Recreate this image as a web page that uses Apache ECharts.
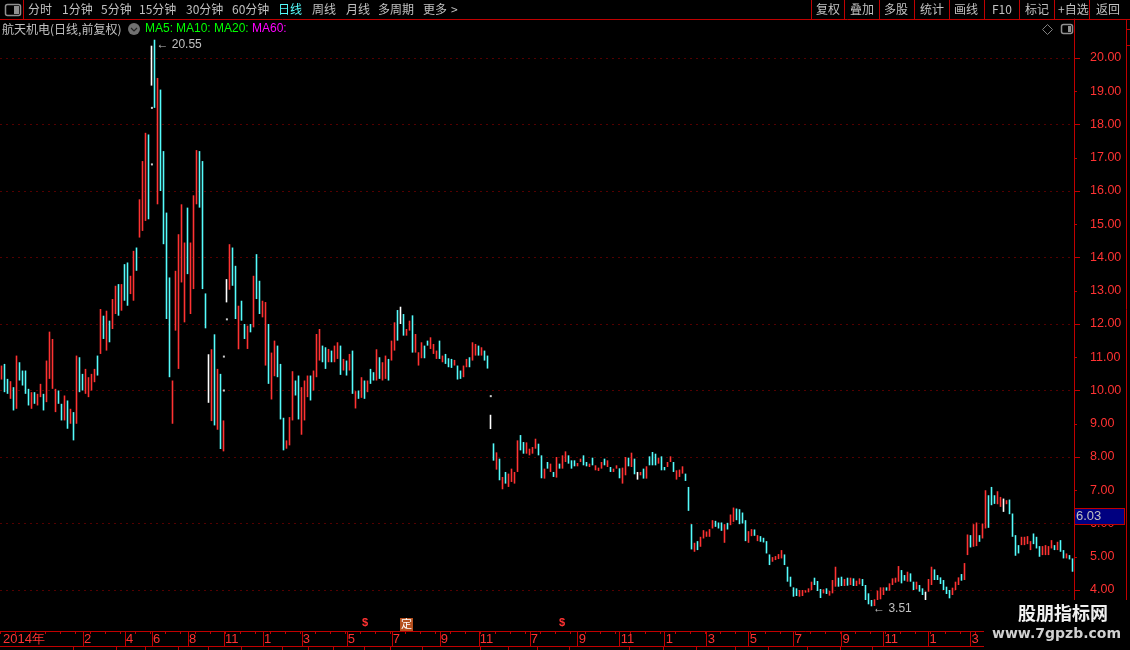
<!DOCTYPE html>
<html>
<head>
<meta charset="utf-8">
<style>html,body{margin:0;padding:0;background:#000}#main{width:1130px;height:650px}</style>
<script src="https://cdn.jsdelivr.net/npm/echarts@6/dist/echarts.min.js"></script>
</head>
<body>
<div id="main"></div>
<script>
// open, close, low, high
const candleValues = [
[10.35,10.72,10.33,10.75],[10.75,10.3,9.95,10.8],[10.3,10,9.9,10.35],[9.95,10.2,9.75,10.28],[9.9,9.5,9.4,10.1],[10,10.9,9.45,11.05],[10.8,10.35,10.3,10.85],[10.6,10.3,10.15,10.6],[10.55,10.1,9.9,10.6],[10.05,9.65,9.55,10.05],
[9.6,9.95,9.45,9.95],[9.95,9.7,9.6,9.95],[9.65,9.9,9.55,9.9],[9.9,10.15,9.8,10.2],[9.9,9.6,9.4,9.9],[9.8,10.4,9.65,10.9],[10.4,11.3,10.35,11.77],[10.2,10.6,10.05,11.55],[9.75,10,9.35,10.05],[10,9.7,9.6,10],
[9.55,9.2,9.1,9.6],[9.2,9.7,9.1,9.85],[9.6,9,8.85,9.7],[9.1,9.4,9,9.45],[9.3,8.95,8.5,9.35],[9.1,10.2,9,11.05],[11,10.2,9.95,11],[10.4,10.1,10,10.5],[10,10.4,9.9,10.65],[10,10.3,9.8,10.4],
[10.15,10.35,10,10.5],[10.4,10.6,10.25,10.65],[11,10.5,10.45,11.05],[11.2,11.5,11.1,12.45],[12.2,11.7,11.55,12.25],[11.4,12,11.2,12.4],[12.05,11.6,11.45,12.1],[12,12.6,11.85,12.75],[12.5,13,12.3,13.15],[13,12.5,12.25,13.2],
[12.6,13,12.4,13.2],[13.7,13,12.7,13.8],[13.8,13.2,12.55,13.85],[13,13.4,12.9,13.45],[13.1,13.8,12.7,14.2],[14.2,13.65,13.6,14.3],[14.75,15.7,14.6,15.75],[15.2,16.75,14.8,16.9],[16.2,17.4,15.1,17.75],[17.65,16.2,15.15,17.7],
[19.8,19.8,19.17,20.37],[20.2,18.8,18.5,20.55],[17.9,19.3,15.6,19.4],[17.6,17.2,16,19.05],[17.2,14.9,14.4,17.2],[15.33,13.8,12.15,15.35],[13.35,11,10.4,13.4],[9.3,9.9,9,10.3],[12.4,13,11.8,13.6],[11.9,14.6,10.65,14.7],
[14,15.2,13.25,15.6],[12.6,14.4,12.05,14.45],[15.5,13.9,13.5,15.5],[12.9,14.3,12.3,14.45],[13.9,15.8,13.05,15.87],[15.7,17.2,15.6,17.23],[16.9,15.9,15.5,17.2],[15.1,13.4,13.05,16.9],[12.92,12.1,11.87,12.92],[10.4,10.4,9.63,11.09],
[9.3,10.6,9.08,11.24],[10.9,9.7,8.95,11.69],[9.7,10.3,8.82,10.65],[10.4,8.6,8.24,10.5],[8.3,9,8.17,9.1],[13,13,12.65,13.35],[13.2,14,13.03,14.4],[14.25,13.4,13.15,14.3],[13.75,12.7,12.15,13.75],[11.5,12.4,11.24,12.55],
[12.65,12.2,12.1,12.7],[12,11.6,11.55,12],[11.3,11.9,11.25,11.95],[11.95,11.8,11.75,12],[12.2,13.3,11.9,13.45],[13.4,12.8,12.75,14.1],[13.3,12.7,12.3,13.3],[12.3,12.65,12.2,12.7],[11.5,12.6,10.75,12.66],[12,11.4,10.2,12],
[10.2,11.1,9.73,11.14],[10.6,11.4,10.43,11.5],[11.3,10.6,10.4,11.35],[10.75,9.9,9.13,10.8],[9.1,8.4,8.2,9.18],[8.3,8.5,8.25,8.5],[8.45,9.1,8.35,9.2],[9.5,10.5,9.1,10.58],[10.1,9.85,9.85,10.3],[10.45,9.5,9.13,10.45],
[8.9,9.8,8.67,10.1],[9.4,10.2,9.1,10.3],[9.8,10.2,9.8,10.45],[10.45,9.9,9.7,10.45],[10.1,10.4,10,10.6],[10.5,11.4,10.4,11.7],[11,11.5,10.9,11.85],[11.35,11,10.85,11.35],[11.2,10.8,10.65,11.3],[10.85,11.2,10.85,11.25],
[11.2,10.85,10.85,11.2],[10.9,11.3,10.85,11.35],[11,11.4,10.95,11.45],[11.35,10.8,10.47,11.35],[10.65,10.95,10.6,10.95],[10.9,10.6,10.45,10.9],[10.7,11,10.6,11.1],[11.2,10.2,9.9,11.2],[9.65,10,9.46,9.98],[10,9.8,9.75,10],
[9.9,10.3,9.78,10.4],[10.3,9.85,9.75,10.3],[9.95,10.25,9.95,10.3],[10.6,10.2,10.2,10.65],[10.5,10.3,10.3,10.55],[10.3,11.1,10.3,11.24],[10.9,10.4,10.35,11],[10.4,10.8,10.3,10.85],[10.4,11,10.35,11.05],[10.9,10.45,10.3,10.95],
[11,11.4,10.9,11.5],[11.4,12,11.2,12.05],[12.4,11.7,11.5,12.42],[12.25,12.25,12,12.52],[12.3,11.9,11.65,12.3],[11.7,11.85,11.65,11.85],[11.8,12.1,11.8,12.1],[12.26,11.6,11.14,12.26],[11.2,11.6,11.14,11.7],[10.9,11.1,10.75,11.15],
[11,11.4,10.97,11.45],[11.35,11.05,10.97,11.35],[11.5,11.35,11.35,11.5],[11.3,11.55,11.25,11.6],[11.1,11.3,11.1,11.4],[11,11.2,10.95,11.2],[11.5,11.05,10.95,11.5],[10.85,11,10.85,11.05],[11.1,10.9,10.8,11.1],[10.95,10.7,10.7,10.97],
[10.95,10.7,10.68,10.95],[10.8,10.9,10.75,10.92],[10.7,10.4,10.33,10.75],[10.55,10.4,10.35,10.6],[10.4,10.7,10.4,10.75],[10.7,10.95,10.7,10.95],[11,10.7,10.7,11],[10.95,11.4,10.9,11.45],[11.15,11.4,11.05,11.4],[11.35,11.1,11.05,11.35],
[11.05,11.3,11.05,11.3],[11.2,10.95,10.9,11.2],[10.95,10.75,10.66,11.05],[9.05,9.05,8.84,9.27],[8.41,8.05,7.89,8.41],[7.75,8.05,7.62,8.14],[7.95,7.6,7.3,7.95],[7.2,7.4,7.03,7.4],[7.5,7.25,7.2,7.55],[7.15,7.45,7.1,7.5],
[7.3,7.6,7.25,7.65],[7.25,7.5,7.2,7.55],[7.7,8.4,7.55,8.5],[8.66,8.25,8.2,8.66],[8.45,8.2,8.1,8.45],[8.1,8.44,8.1,8.44],[8.05,8.2,8.05,8.25],[8.1,8.25,8.1,8.3],[8.3,8.55,8.25,8.55],[8.4,8.05,8.05,8.4],
[8,7.5,7.36,8.05],[7.4,7.65,7.35,7.65],[7.85,7.7,7.65,7.85],[7.6,7.75,7.55,7.8],[7.55,7.42,7.4,7.55],[7.45,7.9,7.38,8],[7.8,7.65,7.65,7.8],[7.7,7.95,7.65,8.05],[7.85,8.1,7.85,8.17],[8.05,7.85,7.8,8.05],
[7.85,7.7,7.65,7.9],[7.9,7.72,7.72,7.9],[7.75,7.82,7.72,7.82],[7.85,7.95,7.85,7.95],[7.95,7.8,7.75,8.05],[7.85,7.75,7.72,7.85],[7.72,7.78,7.7,7.8],[7.98,7.8,7.75,7.98],[7.6,7.72,7.6,7.75],[7.58,7.65,7.58,7.68],
[7.65,7.8,7.65,7.85],[7.95,7.75,7.75,7.95],[7.7,7.85,7.7,7.9],[7.7,7.55,7.55,7.7],[7.6,7.65,7.55,7.65],[7.65,7.72,7.65,7.75],[7.6,7.42,7.36,7.66],[7.3,7.65,7.2,7.68],[7.5,8,7.45,8],[7.98,7.75,7.72,7.98],
[7.75,8.13,7.7,8.13],[7.95,7.5,7.48,7.95],[7.45,7.45,7.32,7.55],[7.45,7.55,7.45,7.55],[7.65,7.4,7.35,7.65],[7.4,7.7,7.35,7.72],[8,7.75,7.75,8.02],[8.05,7.78,7.75,8.15],[8.1,7.8,7.75,8.1],[7.8,7.98,7.8,7.98],
[8,7.6,7.6,8.02],[7.7,7.6,7.6,7.7],[7.7,7.85,7.7,7.85],[7.85,8,7.85,8.02],[7.85,7.6,7.55,7.85],[7.35,7.55,7.32,7.6],[7.45,7.6,7.4,7.62],[7.5,7.7,7.5,7.72],[7.5,7.3,7.28,7.5],[7.1,6.4,6.38,7.1],
[5.98,5.3,5.22,5.98],[5.2,5.4,5.15,5.42],[5.47,5.25,5.2,5.47],[5.35,5.55,5.3,5.6],[5.55,5.75,5.55,5.8],[5.6,5.75,5.6,5.76],[5.6,5.8,5.6,5.83],[5.85,6.1,5.85,6.1],[6.08,5.9,5.9,6.08],[6,5.85,5.85,6.03],
[6.03,5.78,5.78,6.03],[5.7,5.95,5.42,5.98],[6,5.85,5.82,6.02],[5.95,6.25,5.95,6.27],[6.1,6.45,6.05,6.48],[6.4,6.2,6.1,6.45],[6.43,6.05,5.98,6.43],[6.3,6,6,6.33],[5.98,5.65,5.47,6.1],[5.5,5.75,5.42,5.77],
[5.65,5.8,5.62,5.83],[5.82,5.65,5.63,5.82],[5.55,5.65,5.47,5.65],[5.6,5.47,5.45,5.62],[5.57,5.45,5.43,5.57],[5.45,5.3,5.1,5.47],[5.05,4.8,4.75,5.07],[4.85,4.97,4.85,4.99],[4.9,5,4.9,5.02],[4.95,5.07,4.93,5.08],
[4.95,5.2,4.95,5.2],[5.07,4.75,4.75,5.07],[4.7,4.35,4.25,4.7],[4.4,4.15,4.1,4.4],[4.08,3.85,3.8,4.08],[4,3.85,3.82,4.05],[3.85,4,3.8,4],[3.85,3.97,3.82,4],[3.92,3.98,3.92,3.99],[3.95,4.05,3.93,4.05],
[4,4.2,4,4.25],[4.37,4.15,4.15,4.37],[4.15,4,3.97,4.27],[4.03,3.82,3.76,4.03],[3.9,4,3.9,4.02],[4.05,3.9,3.88,4.05],[3.85,3.95,3.83,3.97],[3.97,4.2,3.9,4.3],[4.1,4.25,4.1,4.7],[4.35,4.1,4.1,4.37],
[4.37,4.12,4.12,4.4],[4.15,4.3,4.12,4.33],[4.35,4.15,4.13,4.37],[4.15,4.35,4.15,4.37],[4.35,4.15,4.12,4.35],[4.12,4.25,4.12,4.28],[4.2,4.35,4.17,4.35],[4.33,4.15,4.12,4.33],[4.15,3.95,3.7,4.15],[3.85,3.6,3.57,3.9],
[3.65,3.55,3.51,3.7],[3.55,3.7,3.52,3.72],[3.7,3.95,3.7,3.98],[3.75,4,3.72,4.08],[3.85,4,3.85,4.08],[4.08,3.98,3.98,4.08],[4,4.2,3.98,4.2],[4.15,4.35,4.15,4.35],[4.25,4.37,4.22,4.37],[4.25,4.5,4.25,4.72],
[4.6,4.25,4.2,4.6],[4.45,4.3,4.28,4.45],[4.25,4.45,4.25,4.55],[4.5,4.3,4.25,4.5],[4.25,4.05,4,4.25],[4.05,4.2,4.02,4.25],[4.1,3.95,3.95,4.15],[4,3.9,3.85,4.05],[3.85,3.85,3.7,3.95],[3.98,4.3,3.95,4.33],
[4.2,4.5,4.15,4.7],[4.62,4.35,4.3,4.62],[4.45,4.3,4.3,4.45],[4.38,4.2,4.18,4.38],[4.3,4.05,4,4.3],[4.1,3.9,3.88,4.1],[3.95,3.8,3.75,4],[3.9,4.05,3.85,4.07],[4.05,4.25,4,4.25],[4.2,4.35,4.15,4.38],
[4.48,4.3,4.28,4.48],[4.35,4.8,4.3,4.81],[5.1,5.5,5.05,5.67],[5.62,5.3,5.28,5.65],[5.35,5.9,5.3,5.98],[5.4,5.95,5.32,6.03],[5.65,5.45,5.45,5.65],[5.55,5.9,5.55,6],[5.9,6.6,5.85,7],[6.6,5.95,5.87,6.85],
[7.1,6.6,6.55,7.1],[6.8,6.6,6.59,6.85],[6.6,6.95,6.58,6.97],[6.5,6.75,6.5,6.8],[6.6,6.6,6.35,6.75],[6.6,6.7,6.58,6.7],[6.7,6.3,6.28,6.72],[6.1,5.7,5.6,6.3],[5.55,5.1,5.03,5.65],[5.3,5.2,5.1,5.35],
[5.4,5.55,5.35,5.6],[5.35,5.55,5.35,5.6],[5.4,5.6,5.38,5.62],[5.2,5.45,5.2,5.47],[5.7,5.4,5.38,5.7],[5.6,5.25,5.25,5.6],[5.2,5.05,5,5.32],[5.05,5.3,5.05,5.32],[5.1,5.3,5.05,5.35],[5.15,5.3,5.05,5.32],
[5.25,5.45,5.25,5.5],[5.35,5.2,5.2,5.35],[5.25,5.4,5.2,5.45],[5.45,5.25,5.15,5.5],[5.15,5,4.95,5.2],[5,5.1,4.95,5.1],[5.05,4.95,4.92,5.05],[4.9,4.55,4.55,4.95]
];
// one-price days, only a white dot on the chart
const flatDots = [[50, 16.8], [50, 18.5], [74, 10], [74, 11.02], [75, 12.14], [163, 9.83]];
const categories = candleValues.map((v, i) => String(i));
const monthTickIndex = [0, 13, 27, 41, 50, 62, 74, 87, 100, 115, 130, 146, 159, 176, 192, 206, 221, 235, 249, 264, 280, 294, 309, 323];
const monthTickLabel = ['2014年', '12', '2', '4', '6', '8', '11', '1', '3', '5', '7', '9', '11', '7', '9', '11', '1', '3', '5', '7', '9', '11', '1', '3'];
const priceLabels = [4, 5, 6, 7, 8, 9, 10, 11, 12, 13, 14, 15, 16, 17, 18, 19, 20];
const priceLong = [4, 6, 8, 10, 12, 14, 16, 18, 20];
const priceShort = [5, 7, 9, 11, 13, 15, 17, 19];
const lastPrice = 6.03;
const maxPoint = [51, 20.55];
const minPoint = [290, 3.51];

const menuLeft = [['分时', 28], ['1分钟', 62], ['5分钟', 101], ['15分钟', 139], ['30分钟', 186], ['60分钟', 232], ['日线', 278], ['周线', 312], ['月线', 346], ['多周期', 378], ['更多', 423], ['>', 451]];
const menuRight = [['复权', 816], ['叠加', 850], ['多股', 884], ['统计', 920], ['画线', 954], ['F10', 992], ['标记', 1025], ['+自选', 1058], ['返回', 1096]];
const menuSeps = [23, 811, 844, 879, 914, 949, 984, 1019, 1054, 1089];
const legendItems = [['MA5:', 145, '#00ff00'], ['MA10:', 176, '#00ff00'], ['MA20:', 214, '#00ff00'], ['MA60:', 252, '#ff00ff']];
const bottomSeps = [73, 116, 145, 178, 208, 241, 282, 308, 333, 364, 390, 422, 480, 508, 537, 569, 629, 663, 696, 735, 768, 807, 840, 872];

const RED = '#ff3232', CYAN = '#54fcfc', LINE = '#c00000', GREY = '#c0c0c0';
const FONT = '"Noto Sans CJK SC", sans-serif';
const NUM = '"Liberation Sans", sans-serif';

function hline(x1, x2, y, color) {
    return { type: 'line', silent: true, z: 50, shape: { x1: x1, y1: y + 0.5, x2: x2, y2: y + 0.5 }, style: { stroke: color || LINE, lineWidth: 1 } };
}
function vline(x, y1, y2, color) {
    return { type: 'line', silent: true, z: 50, shape: { x1: x + 0.5, y1: y1, x2: x + 0.5, y2: y2 }, style: { stroke: color || LINE, lineWidth: 1 } };
}
function label(text, x, y, color, size, font, weight) {
    return {
        type: 'text', silent: true, z: 60, x: x, y: y,
        style: { text: text, fill: color || GREY, font: (weight || 'normal') + ' ' + (size || 12) + 'px ' + (font || FONT), textVerticalAlign: 'middle' }
    };
}

const graphics = [];
graphics.push(hline(0, 1130, 19));
menuSeps.forEach(x => graphics.push(vline(x, 0, 19)));
menuLeft.forEach(m => graphics.push(label(m[0], m[1], 9, m[0] === '日线' ? CYAN : GREY)));
menuRight.forEach(m => graphics.push(label(m[0], m[1], 9)));
// window icons
graphics.push({ type: 'rect', silent: true, z: 60, shape: { x: 5.5, y: 4.5, width: 15, height: 11, r: 2 }, style: { stroke: '#909090', fill: '#000', lineWidth: 1.5 } });
graphics.push({ type: 'rect', silent: true, z: 61, shape: { x: 14, y: 6, width: 5, height: 8 }, style: { fill: '#909090' } });
graphics.push({ type: 'rect', silent: true, z: 60, shape: { x: 1061.5, y: 24.5, width: 11, height: 9, r: 2 }, style: { stroke: '#909090', fill: '#000', lineWidth: 1.5 } });
graphics.push({ type: 'rect', silent: true, z: 61, shape: { x: 1068, y: 26, width: 3, height: 6 }, style: { fill: '#909090' } });
graphics.push({ type: 'polygon', silent: true, z: 60, shape: { points: [[1047.5, 24.5], [1052.5, 29.5], [1047.5, 34.5], [1042.5, 29.5]] }, style: { stroke: '#808080', fill: 'none', lineWidth: 1 } });
// title row
graphics.push(label('航天机电(日线,前复权)', 2, 29));
graphics.push({ type: 'circle', silent: true, z: 60, shape: { cx: 134, cy: 29, r: 6 }, style: { fill: '#707070' } });
graphics.push({ type: 'polyline', silent: true, z: 61, shape: { points: [[131, 28], [134, 31], [137, 28]] }, style: { stroke: '#222', fill: 'none', lineWidth: 1.2 } });
legendItems.forEach(m => graphics.push(label(m[0], m[1], 29, m[2], 12, NUM)));
// right column and date rows
graphics.push(vline(1126, 19, 600));
graphics.push(hline(1126, 1130, 29));
graphics.push(hline(1126, 1130, 45));
graphics.push(hline(0, 984, 646));
bottomSeps.forEach(x => graphics.push(vline(x, 646, 650)));
// markers above the date axis
graphics.push(label('$', 362, 623, RED, 11, NUM, 'bold'));
graphics.push(label('$', 559, 623, RED, 11, NUM, 'bold'));
graphics.push({ type: 'rect', silent: true, z: 60, shape: { x: 400, y: 618, width: 13, height: 13 }, style: { fill: '#b5501e' } });
graphics.push(label('定', 401, 624, '#ffffff', 11));
// watermark
graphics.push({ type: 'rect', silent: true, z: 90, shape: { x: 984, y: 600, width: 146, height: 50 }, style: { fill: '#000' } });
graphics.push({ type: 'text', silent: true, z: 95, x: 1018, y: 613, style: { text: '股朋指标网', fill: '#f0f0f0', font: 'bold 18px ' + FONT, textVerticalAlign: 'middle' } });
graphics.push({ type: 'text', silent: true, z: 95, x: 992, y: 634, style: { text: 'www.7gpzb.com', fill: '#d0d0d0', font: 'bold 14px "DejaVu Sans", sans-serif', textVerticalAlign: 'middle' } });

var myChart = echarts.init(document.getElementById('main'));
const option = {
    animation: false,
    backgroundColor: '#000',
    grid: { left: 0, right: 56, top: 19, height: 612, containLabel: false },
    xAxis: [
        {
            type: 'category',
            data: categories,
            boundaryGap: true,
            axisLine: { lineStyle: { color: LINE } },
            axisTick: {
                show: true, alignWithLabel: true, length: 15, lineStyle: { color: LINE },
                interval: (i) => i > 0 && monthTickIndex.indexOf(i) >= 0
            },
            axisLabel: {
                interval: (i) => monthTickIndex.indexOf(i) >= 0,
                formatter: (v, i) => monthTickLabel[monthTickIndex.indexOf(i)],
                showMinLabel: true,
                color: RED, fontFamily: NUM, fontSize: 13, margin: 2, align: 'left', padding: [0, 0, 0, 1]
            },
            splitLine: { show: false }
        },
        {
            type: 'category',
            data: categories,
            position: 'bottom',
            axisLine: { show: false },
            axisTick: { show: true, length: 3, interval: 4, lineStyle: { color: LINE } },
            axisLabel: { show: false },
            splitLine: { show: false }
        }
    ],
    yAxis: [
        {
            type: 'value', position: 'right',
            min: 2.767, max: 21.173, scale: true,
            axisLine: { show: true, lineStyle: { color: LINE } },
            axisTick: { show: true, length: 6, customValues: priceLong, lineStyle: { color: LINE } },
            axisLabel: {
                customValues: priceLabels, margin: 16, color: RED, fontFamily: NUM, fontSize: 12.5,
                formatter: (v) => v.toFixed(2)
            },
            splitLine: { show: true, lineStyle: { color: '#a80000', type: [1, 5], width: 1 } }
        },
        {
            type: 'value', position: 'right',
            min: 2.767, max: 21.173, scale: true,
            axisLine: { show: false },
            axisTick: { show: true, length: 3, customValues: priceShort, lineStyle: { color: LINE } },
            axisLabel: { show: false },
            splitLine: { show: false }
        }
    ],
    series: [
        {
            type: 'candlestick',
            data: candleValues,
            barWidth: 1,
            itemStyle: { color: RED, color0: CYAN, borderColor: RED, borderColor0: CYAN, borderColorDoji: '#ffffff', borderWidth: 1.6 },
            markPoint: {
                symbol: 'circle', symbolSize: 1, silent: true, animation: false,
                itemStyle: { color: 'transparent' },
                data: [
                    { coord: maxPoint, value: maxPoint[1], label: { show: true, position: 'right', distance: 1, offset: [0, 5], color: GREY, fontFamily: NUM, fontSize: 12, formatter: (p) => '← ' + p.value.toFixed(2) } },
                    { coord: minPoint, value: minPoint[1], label: { show: true, position: 'right', distance: 1, offset: [0, 2], color: GREY, fontFamily: NUM, fontSize: 12, formatter: (p) => '← ' + p.value.toFixed(2) } }
                ]
            },
            markLine: {
                silent: true, animation: false, symbol: 'none',
                lineStyle: { color: 'transparent', width: 0 },
                data: [{ yAxis: lastPrice }],
                label: {
                    show: true, position: 'end', distance: 1, offset: [0, -6], formatter: () => lastPrice.toFixed(2), color: GREY,
                    fontFamily: NUM, fontSize: 13, align: 'left',
                    backgroundColor: '#000080', borderColor: LINE, borderWidth: 1, width: 48, height: 14, lineHeight: 14, padding: [1, 0, 0, 1]
                }
            }
        },
        {
            type: 'scatter',
            data: flatDots,
            symbol: 'rect',
            symbolSize: 2,
            silent: true,
            itemStyle: { color: '#ffffff' }
        }
    ],
    graphic: graphics
};
myChart.setOption(option);
</script>
</body>
</html>
